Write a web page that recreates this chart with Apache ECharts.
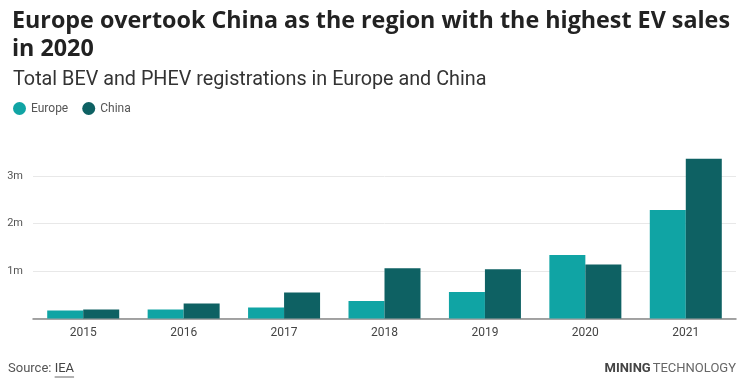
<!DOCTYPE html>
<html><head><meta charset="utf-8">
<script src="https://cdn.jsdelivr.net/npm/echarts@6/dist/echarts.min.js"></script>
<style>html,body{margin:0;padding:0;background:#fff}#c{width:740px;height:386px}</style>
</head><body><div id="c"></div>
<script>
const categories = ['2015','2016','2017','2018','2019','2020','2021'];
const europe = [0.17, 0.19, 0.23, 0.37, 0.56, 1.34, 2.29];
const china = [0.19, 0.315, 0.55, 1.06, 1.04, 1.14, 3.37];
const yTicks = [0, 1, 2, 3];

const font = 'Roboto, "Noto Sans", sans-serif';
const tfont = '"Open Sans", "Noto Sans", sans-serif';
const ctx = document.createElement('canvas').getContext('2d');
function tw(t, f) { ctx.font = f; return ctx.measureText(t).width; }

const chart = echarts.init(document.getElementById('c'));
const srcW = tw('Source: ', '13px Roboto');
const iaW = tw('IEA', '13px Roboto');
const techW = tw('TECHNOLOGY', '13px Roboto');
chart.setOption({
  animation: false,
  textStyle: {fontFamily: font},
  title: [
    {text: 'Europe overtook China as the region with the highest EV sales\nin 2020', left: 7, top: 2,
     textStyle: {fontSize: 23.3, fontWeight: 'bold', color: '#222', lineHeight: 28, fontFamily: tfont}},
    {text: 'Total BEV and PHEV registrations in Europe and China', left: 8, top: 65,
     textStyle: {fontSize: 19.8, fontWeight: 'normal', color: '#333', fontFamily: font}}
  ],
  graphic: [
    {type: 'text', left: 8, top: 362, style: {text: 'Source: ', font: '13px Roboto', fill: '#555'}},
    {type: 'text', left: 8 + srcW, top: 362, style: {text: 'IEA', font: '13px Roboto', fill: '#444'}},
    {type: 'line', shape: {x1: 8 + srcW, y1: 377, x2: 8 + srcW + iaW, y2: 377}, style: {stroke: '#666', lineWidth: 1}},
    {type: 'text', right: 4, top: 362, style: {text: 'TECHNOLOGY', font: '13px Roboto', fill: '#666'}},
    {type: 'text', right: 4 + techW + 2, top: 362, style: {text: 'MINING', font: 'bold 13px Roboto', fill: '#444'}}
  ],
  legend: {left: 8, top: 97, icon: 'circle', itemWidth: 13, itemHeight: 13, itemGap: 14,
    textStyle: {fontSize: 12, color: '#555', fontFamily: font}},
  grid: {left: 33, right: 4, top: 152.6, bottom: 67.5},
  xAxis: {type: 'category', data: categories,
    axisLine: {lineStyle: {color: '#888', width: 1.5}},
    axisTick: {show: false},
    axisLabel: {fontSize: 12, color: '#444', margin: 8}},
  yAxis: {type: 'value', min: 0, max: 3.5, interval: 1,
    axisLabel: {fontSize: 11, color: '#555', margin: 10,
      formatter: v => yTicks.includes(v) && v > 0 ? v + 'm' : '', showMaxLabel: false},
    splitLine: {lineStyle: {color: '#e8e8e8'}, showMaxLine: false}},
  series: [
    {name: 'Europe', type: 'bar', data: europe, barWidth: 36, barGap: '0%', itemStyle: {color: '#10a4a4'}},
    {name: 'China', type: 'bar', data: china, barWidth: 36, itemStyle: {color: '#0e6163'}}
  ]
});
</script></body></html>
